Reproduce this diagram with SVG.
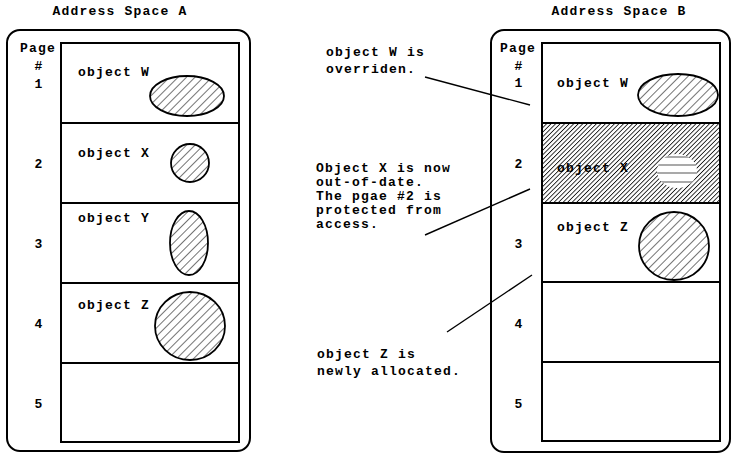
<svg xmlns="http://www.w3.org/2000/svg" width="732" height="456" viewBox="0 0 732 456">
  <defs>
    <!-- sparse diagonal hatch for object shapes -->
    <pattern id="hatch" width="6" height="6" patternUnits="userSpaceOnUse" patternTransform="rotate(45)">
      <rect width="6" height="6" fill="#fff"/>
      <line x1="0" y1="0" x2="0" y2="6" stroke="#000" stroke-width="1.1"/>
    </pattern>
    <!-- dense diagonal hatch for the protected page -->
    <pattern id="dense" width="3.2" height="3.2" patternUnits="userSpaceOnUse" patternTransform="rotate(45)">
      <rect width="3.2" height="3.2" fill="#fff"/>
      <line x1="0" y1="0" x2="0" y2="3.2" stroke="#111" stroke-width="1.7"/>
    </pattern>
    <clipPath id="stale-clip">
      <ellipse cx="677" cy="171" rx="20" ry="17"/>
    </clipPath>
  </defs>
  <style>
    text { font-family: "Liberation Mono", "Courier New", monospace; font-weight: bold; font-size: 13px; letter-spacing: 1.2px; fill: #000; }
    .mid { text-anchor: middle; }
    .frame { fill: none; stroke: #000; stroke-width: 2; }
    .page { fill: #fff; stroke: #000; stroke-width: 2; }
    .obj { fill: url(#hatch); stroke: #000; stroke-width: 1.8; }
    .link { stroke: #000; stroke-width: 1.4; fill: none; }
  </style>

  <rect width="732" height="456" fill="#fff"/>

  <!-- Address space A -->
  <g id="space-a">
    <text class="mid" x="120" y="15">Address Space A</text>
    <rect class="frame" x="7" y="30" width="243" height="421" rx="13"/>
    <text class="mid" x="38" y="52">Page</text>
    <text class="mid" x="39" y="70">#</text>
    <g id="a-page1">
      <rect class="page" x="61" y="43" width="178" height="80"/>
      <text class="mid" x="39" y="88">1</text>
      <text x="78" y="76">object W</text>
      <ellipse class="obj" cx="187" cy="96" rx="37" ry="20"/>
    </g>
    <g id="a-page2">
      <rect class="page" x="61" y="123" width="178" height="80"/>
      <text class="mid" x="39" y="168">2</text>
      <text x="78" y="157">object X</text>
      <ellipse class="obj" cx="190" cy="163" rx="19" ry="19"/>
    </g>
    <g id="a-page3">
      <rect class="page" x="61" y="203" width="178" height="80"/>
      <text class="mid" x="39" y="248">3</text>
      <text x="78" y="222">object Y</text>
      <ellipse class="obj" cx="189" cy="243" rx="19" ry="32"/>
    </g>
    <g id="a-page4">
      <rect class="page" x="61" y="283" width="178" height="80"/>
      <text class="mid" x="39" y="328">4</text>
      <text x="78" y="309">object Z</text>
      <ellipse class="obj" cx="190" cy="326" rx="35" ry="34"/>
    </g>
    <g id="a-page5">
      <rect class="page" x="61" y="363" width="178" height="79"/>
      <text class="mid" x="39" y="408">5</text>
    </g>
  </g>

  <!-- Address space B -->
  <g id="space-b">
    <text class="mid" x="619" y="15">Address Space B</text>
    <rect class="frame" x="491" y="30" width="239" height="422" rx="13"/>
    <text class="mid" x="518" y="52">Page</text>
    <text class="mid" x="519" y="70">#</text>
    <g id="b-page1">
      <rect class="page" x="542" y="43" width="178" height="80"/>
      <text class="mid" x="519" y="87">1</text>
      <text x="557" y="87">object W</text>
      <ellipse class="obj" cx="678" cy="95" rx="40" ry="21"/>
    </g>
    <g id="b-page2">
      <rect x="542" y="123" width="178" height="80" fill="url(#dense)" stroke="#000" stroke-width="2"/>
      <text class="mid" x="519" y="168">2</text>
      <text x="557" y="172">object X</text>
      <ellipse cx="677" cy="171" rx="20" ry="17" fill="#fff"/>
      <g clip-path="url(#stale-clip)" stroke="#555" stroke-width="1.2">
        <line x1="655" y1="157" x2="700" y2="157"/>
        <line x1="655" y1="165" x2="700" y2="165"/>
        <line x1="655" y1="173" x2="700" y2="173"/>
        <line x1="655" y1="182" x2="700" y2="182"/>
      </g>
    </g>
    <g id="b-page3">
      <rect class="page" x="542" y="203" width="178" height="79"/>
      <text class="mid" x="519" y="248">3</text>
      <text x="557" y="231">object Z</text>
      <ellipse class="obj" cx="674" cy="246" rx="35" ry="34"/>
    </g>
    <g id="b-page4">
      <rect class="page" x="542" y="282" width="178" height="80"/>
      <text class="mid" x="519" y="328">4</text>
    </g>
    <g id="b-page5">
      <rect class="page" x="542" y="362" width="178" height="79"/>
      <text class="mid" x="519" y="408">5</text>
    </g>
  </g>

  <!-- notes -->
  <g id="note-w">
    <text x="326" y="56">object W is</text>
    <text x="326" y="73">overriden.</text>
  </g>
  <g id="note-x">
    <text x="316" y="172">Object X is now</text>
    <text x="316" y="186">out-of-date.</text>
    <text x="316" y="200">The pgae #2 is</text>
    <text x="316" y="214">protected from</text>
    <text x="316" y="228">access.</text>
  </g>
  <g id="note-z">
    <text x="317" y="358">object Z is</text>
    <text x="317" y="375">newly allocated.</text>
  </g>

  <!-- leader lines from notes to pages -->
  <g id="connectors">
    <line class="link" x1="425" y1="77" x2="530" y2="105"/>
    <line class="link" x1="425" y1="235" x2="530" y2="189"/>
    <line class="link" x1="447" y1="332" x2="532" y2="275"/>
  </g>
</svg>
